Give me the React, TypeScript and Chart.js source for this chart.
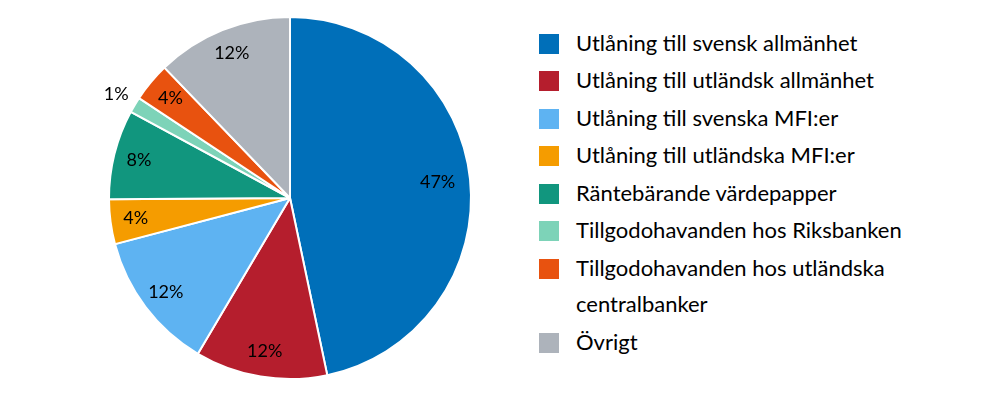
import React, { useEffect, useRef } from "react";
import { Chart, registerables } from "chart.js";

Chart.register(...registerables);

const categories = [
  "Utlåning till svensk allmänhet",
  "Utlåning till utländsk allmänhet",
  "Utlåning till svenska MFI:er",
  "Utlåning till utländska MFI:er",
  "Räntebärande värdepapper",
  "Tillgodohavanden hos Riksbanken",
  "Tillgodohavanden hos utländska centralbanker",
  "Övrigt",
];
const legendLines = [
  ["Utlåning till svensk allmänhet"],
  ["Utlåning till utländsk allmänhet"],
  ["Utlåning till svenska MFI:er"],
  ["Utlåning till utländska MFI:er"],
  ["Räntebärande värdepapper"],
  ["Tillgodohavanden hos Riksbanken"],
  ["Tillgodohavanden hos utländska", "centralbanker"],
  ["Övrigt"],
];
const shares = [46.7, 11.8, 12.4, 4.0, 8.0, 1.4, 3.5, 12.2];
const colors = [
  "#006FB9",
  "#B51E2D",
  "#5EB3F2",
  "#F59C00",
  "#11967E",
  "#7DD3B8",
  "#E8520F",
  "#ADB3BB",
];

const FONT = "Lato, 'Open Sans', sans-serif";

const labelPlugin = {
  id: "sliceLabels",
  afterDatasetsDraw(chart: any) {
    const ctx = chart.ctx;
    const meta = chart.getDatasetMeta(0);
    ctx.save();
    ctx.font = `18px ${FONT}`;
    ctx.fillStyle = "#000";
    ctx.textAlign = "center";
    ctx.textBaseline = "middle";
    meta.data.forEach((arc: any, i: number) => {
      const p = arc.getProps(["x", "y", "startAngle", "endAngle", "outerRadius"], true);
      const mid = (p.startAngle + p.endAngle) / 2;
      const v = shares[i];
      const f = v < 2 ? 1.12 : v > 40 ? 0.82 : 0.86;
      const tx = p.x + Math.cos(mid) * p.outerRadius * f;
      const ty = p.y + Math.sin(mid) * p.outerRadius * f;
      ctx.fillText(Math.round(v) + "%", tx, ty);
    });
    ctx.restore();
  },
};

export default function App() {
  const ref = useRef<HTMLCanvasElement>(null);
  useEffect(() => {
    if (!ref.current) return;
    const chart = new Chart(ref.current, {
      type: "pie",
      data: {
        labels: categories,
        datasets: [
          {
            data: shares,
            backgroundColor: colors,
            borderColor: "#ffffff",
            borderWidth: 2,
          },
        ],
      },
      options: {
        animation: false,
        responsive: false,
        maintainAspectRatio: false,
        layout: { padding: { left: 18, right: 18, top: 16, bottom: 13 } },
        plugins: {
          legend: { display: false },
          tooltip: { enabled: false },
        },
      },
      plugins: [labelPlugin],
    });
    return () => chart.destroy();
  }, []);

  return (
    <div
      style={{
        position: "absolute",
        left: 0,
        top: 0,
        width: 1000,
        height: 393,
        background: "#fff",
        overflow: "hidden",
      }}
    >
      <canvas
        ref={ref}
        width={400}
        height={393}
        style={{ position: "absolute", left: 90, top: 0, width: 400, height: 393 }}
      />
      <div
        style={{
          position: "absolute",
          left: 539,
          top: 24.9,
          fontFamily: FONT,
          fontSize: 22,
          lineHeight: "36.5px",
          color: "#000",
          whiteSpace: "nowrap",
        }}
      >
        {legendLines.map((lines, i) => (
          <div key={i} style={{ position: "relative", paddingLeft: 37, marginBottom: 1 }}>
            <span
              style={{
                position: "absolute",
                left: 0,
                top: 8.9,
                width: 20,
                height: 20,
                background: colors[i],
              }}
            />
            {lines.map((t, j) => (
              <div key={j}>{t}</div>
            ))}
          </div>
        ))}
      </div>
    </div>
  );
}
